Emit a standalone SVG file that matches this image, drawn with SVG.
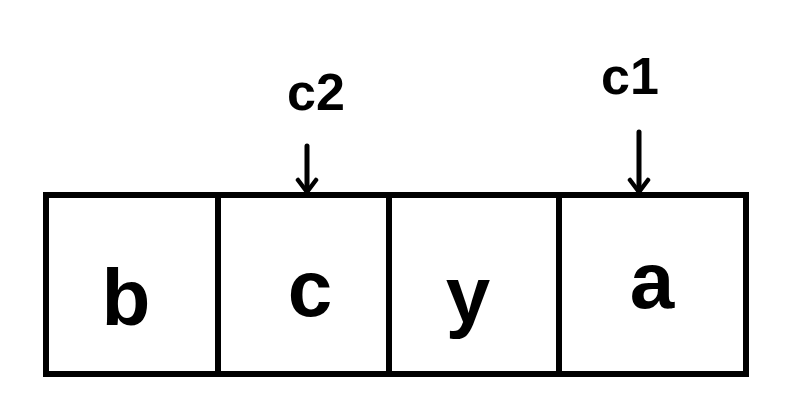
<svg xmlns="http://www.w3.org/2000/svg" width="797" height="418" viewBox="0 0 797 418">
<style>
.cell{fill:#fff;stroke:#000;stroke-width:6;stroke-linejoin:miter}
.t{font-family:"Liberation Sans",Arial,sans-serif;fill:#000;text-anchor:middle;font-weight:bold}
.big{font-size:80px}
.lbl{font-size:52px}
.conn{stroke:#000;stroke-width:5;fill:none;stroke-linecap:round}
</style>
<defs>
<marker id="ah" viewBox="0 0 20 24" refX="16" refY="12" markerWidth="20" markerHeight="24" markerUnits="userSpaceOnUse" orient="auto">
<path d="M4 3 L16 12 L4 21" fill="none" stroke="#000" stroke-width="4.5" stroke-linecap="round" stroke-linejoin="round"/>
</marker>
</defs>
<rect x="0" y="0" width="797" height="418" fill="#fff"/>
<g id="cell-b"><rect class="cell" x="46" y="195" width="172" height="179"/><text class="t big" x="126" y="325">b</text></g>
<g id="cell-c"><rect class="cell" x="218" y="195" width="171" height="179"/><text class="t big" x="310" y="316">c</text></g>
<g id="cell-y"><rect class="cell" x="389" y="195" width="170" height="179"/><text class="t big" x="468" y="322">y</text></g>
<g id="cell-a"><rect class="cell" x="559" y="195" width="187" height="179"/><text class="t big" x="652" y="308">a</text></g>
<g id="label-c2"><text class="t lbl" x="316" y="110">c2</text></g>
<g id="label-c1"><text class="t lbl" x="630" y="94">c1</text></g>
<g id="connectors">
<line class="conn" x1="307" y1="146" x2="307" y2="192" marker-end="url(#ah)"/>
<line class="conn" x1="639" y1="132" x2="639" y2="192" marker-end="url(#ah)"/>
</g>
</svg>
